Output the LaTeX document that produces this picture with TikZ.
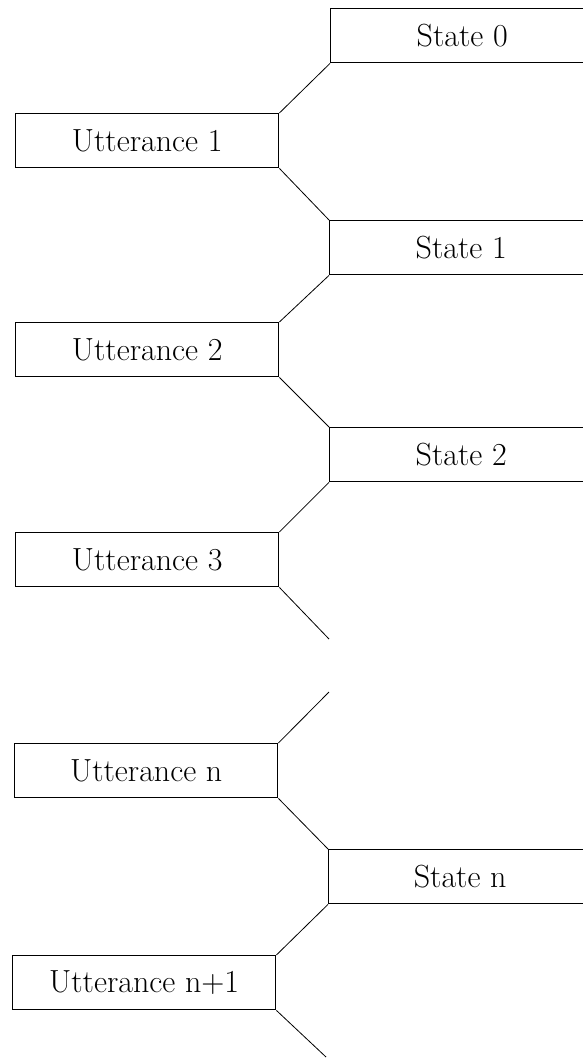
\documentclass[tikz,border=0pt]{standalone}
\begin{document}
\begin{tikzpicture}[x=1pt,y=-1pt,
  box/.style={draw, line width=1.4pt, minimum width=263pt, minimum height=54pt,
    inner sep=0pt, anchor=north west, font=\fontsize{32}{38}\selectfont},
  link/.style={line width=0.8pt}]
\useasboundingbox (0,0) rectangle (583,1058);
\clip (0,0) rectangle (583,1058);
% state boxes
\node[box] (s0) at (330,8)   {State 0};
\node[box] (s1) at (329,220) {State 1};
\node[box] (s2) at (329,427) {State 2};
\node[box] (sn) at (328,849) {State n};
% utterance boxes
\node[box] (u1) at (15,113) {Utterance 1};
\node[box] (u2) at (15,322) {Utterance 2};
\node[box] (u3) at (15,532) {Utterance 3};
\node[box] (un) at (14,743) {Utterance n};
\node[box] (un1) at (12,955) {Utterance n+1};
% free ends
\coordinate (f3) at (329,639);
\coordinate (f4) at (329,692);
\coordinate (fe) at (326,1057);
% connectors
\draw[link] (u1.north east) -- (s0.south west);
\draw[link] (u1.south east) -- (s1.north west);
\draw[link] (u2.north east) -- (s1.south west);
\draw[link] (u2.south east) -- (s2.north west);
\draw[link] (u3.north east) -- (s2.south west);
\draw[link] (u3.south east) -- (f3);
\draw[link] (un.north east) -- (f4);
\draw[link] (un.south east) -- (sn.north west);
\draw[link] (un1.north east) -- (sn.south west);
\draw[link] (un1.south east) -- (fe);
\end{tikzpicture}
\end{document}
